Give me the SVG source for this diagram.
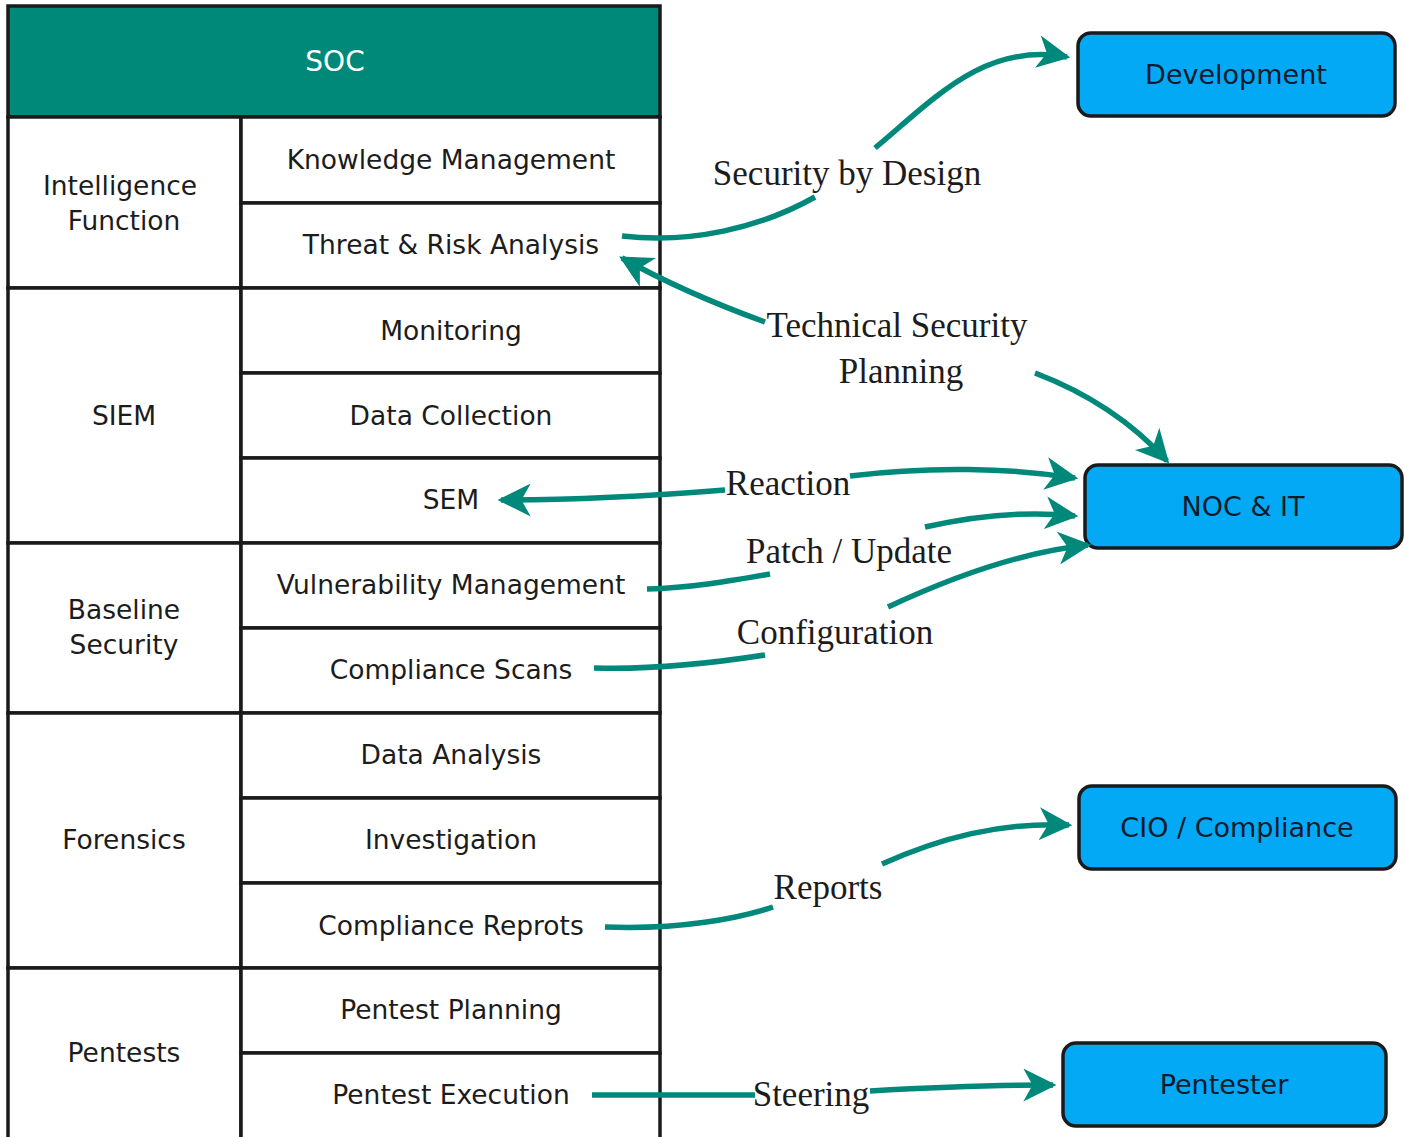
<svg xmlns="http://www.w3.org/2000/svg" width="1404" height="1137" viewBox="0 0 1404 1137">
<style>
.cell{fill:#fff;stroke:#1a1a1a;stroke-width:3.5}
.hdr{fill:#008878;stroke:#1a1a1a;stroke-width:3.5}
.t{font-family:"DejaVu Sans",sans-serif;font-size:26.5px;fill:#1c1c1c;text-anchor:middle}
.w{fill:#fff;font-size:28px}
.box{fill:#03A9F4;stroke:#1a1a1a;stroke-width:3.5}
.bt{font-family:"DejaVu Sans",sans-serif;font-size:27px;fill:#0d1a2b;text-anchor:middle}
.lbl{font-family:"Liberation Serif","Times New Roman",serif;font-size:35px;fill:#1c1c1c;text-anchor:middle}
.c{fill:none;stroke:#00897B;stroke-width:5.5;stroke-linecap:butt}
.a{marker-end:url(#ah)}
</style>
<defs>
<marker id="ah" viewBox="0 0 10 10" refX="9" refY="5" markerWidth="6" markerHeight="6" orient="auto" markerUnits="strokeWidth">
<path d="M0,0 L10,5 L0,10 L2.8,5 z" fill="#00897B"/>
</marker>
</defs>

<g id="soc">
<rect class="hdr" x="8" y="6" width="652" height="111"/>
<text class="t w" x="335" y="71">SOC</text>
</g>

<g id="intelligence">
<rect class="cell" x="8" y="117" width="233" height="171"/>
<text class="t" x="120" y="195">Intelligence</text>
<text class="t" x="124" y="230">Function</text>
</g>
<g id="knowledge-management"><rect class="cell" x="241" y="117" width="419" height="86"/><text class="t" x="451" y="169">Knowledge Management</text></g>
<g id="threat-risk"><rect class="cell" x="241" y="203" width="419" height="85"/><text class="t" x="451" y="254">Threat &amp; Risk Analysis</text></g>

<g id="siem">
<rect class="cell" x="8" y="288" width="233" height="255"/>
<text class="t" x="124" y="425">SIEM</text>
</g>
<g id="monitoring"><rect class="cell" x="241" y="288" width="419" height="85"/><text class="t" x="451" y="340">Monitoring</text></g>
<g id="data-collection"><rect class="cell" x="241" y="373" width="419" height="85"/><text class="t" x="451" y="425">Data Collection</text></g>
<g id="sem"><rect class="cell" x="241" y="458" width="419" height="85"/><text class="t" x="451" y="509">SEM</text></g>

<g id="baseline">
<rect class="cell" x="8" y="543" width="233" height="170"/>
<text class="t" x="124" y="619">Baseline</text>
<text class="t" x="124" y="654">Security</text>
</g>
<g id="vuln-mgmt"><rect class="cell" x="241" y="543" width="419" height="85"/><text class="t" x="451" y="594">Vulnerability Management</text></g>
<g id="compliance-scans"><rect class="cell" x="241" y="628" width="419" height="85"/><text class="t" x="451" y="679">Compliance Scans</text></g>

<g id="forensics">
<rect class="cell" x="8" y="713" width="233" height="255"/>
<text class="t" x="124" y="849">Forensics</text>
</g>
<g id="data-analysis"><rect class="cell" x="241" y="713" width="419" height="85"/><text class="t" x="451" y="764">Data Analysis</text></g>
<g id="investigation"><rect class="cell" x="241" y="798" width="419" height="85"/><text class="t" x="451" y="849">Investigation</text></g>
<g id="compliance-reprots"><rect class="cell" x="241" y="883" width="419" height="85"/><text class="t" x="451" y="935">Compliance Reprots</text></g>

<g id="pentests">
<rect class="cell" x="8" y="968" width="233" height="172"/>
<text class="t" x="124" y="1062">Pentests</text>
</g>
<g id="pentest-planning"><rect class="cell" x="241" y="968" width="419" height="85"/><text class="t" x="451" y="1019">Pentest Planning</text></g>
<g id="pentest-execution"><rect class="cell" x="241" y="1053" width="419" height="87"/><text class="t" x="451" y="1104">Pentest Execution</text></g>

<g id="development"><rect class="box" x="1078" y="33" width="317" height="83" rx="13"/><text class="bt" x="1236" y="84">Development</text></g>
<g id="noc-it"><rect class="box" x="1085" y="465" width="317" height="83" rx="13"/><text class="bt" x="1243" y="516">NOC &amp; IT</text></g>
<g id="cio-compliance"><rect class="box" x="1079" y="786" width="317" height="83" rx="13"/><text class="bt" x="1237" y="837">CIO / Compliance</text></g>
<g id="pentester"><rect class="box" x="1063" y="1043" width="323" height="83" rx="13"/><text class="bt" x="1224" y="1094">Pentester</text></g>

<g id="connectors">
<path class="c" d="M622,236 C690,244 760,228 815,197"/>
<path class="c a" d="M875,148 C935,98 985,42 1067,57"/>
<path class="c a" d="M765,322 C710,302 665,282 622,258"/>
<path class="c a" d="M1035,373 C1085,392 1130,420 1167,461"/>
<path class="c a" d="M725,490 C650,496 570,500 501,500"/>
<path class="c a" d="M850,476 C930,466 1010,468 1075,478"/>
<path class="c" d="M647,589 C690,588 730,581 770,574"/>
<path class="c a" d="M925,527 C970,517 1020,510 1075,516"/>
<path class="c" d="M594,668 C660,670 720,662 765,655"/>
<path class="c a" d="M888,607 C950,578 1020,552 1088,545"/>
<path class="c" d="M605,927 C680,930 740,918 773,907"/>
<path class="c a" d="M882,864 C940,838 1000,822 1069,825"/>
<path class="c" d="M592,1095 L755,1095"/>
<path class="c a" d="M870,1091 C940,1087 1000,1085 1053,1085"/>
</g>

<g id="labels">
<text class="lbl" x="847" y="185">Security by Design</text>
<text class="lbl" x="897" y="337">Technical Security</text>
<text class="lbl" x="901" y="383">Planning</text>
<text class="lbl" x="788" y="495">Reaction</text>
<text class="lbl" x="849" y="563">Patch / Update</text>
<text class="lbl" x="835" y="644">Configuration</text>
<text class="lbl" x="828" y="899">Reports</text>
<text class="lbl" x="811" y="1106">Steering</text>
</g>
</svg>
